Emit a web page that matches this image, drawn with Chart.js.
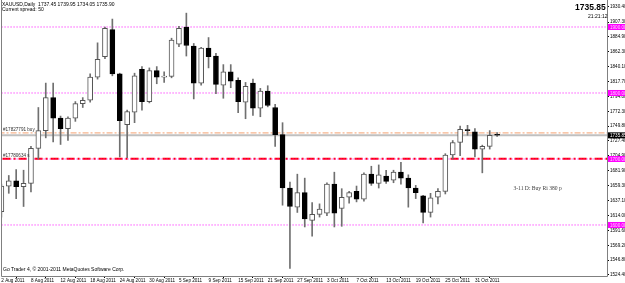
<!DOCTYPE html>
<html><head><meta charset="utf-8">
<script src="https://cdn.jsdelivr.net/npm/chart.js@4.4.1/dist/chart.umd.min.js"></script>
<style>
html,body{margin:0;padding:0;background:#fff;overflow:hidden}
#wrap{position:relative;width:625px;height:283px}
canvas{position:absolute;left:0;top:0}
.t{position:absolute;font-family:"Liberation Sans",Arial,sans-serif;color:#000;white-space:nowrap;line-height:1}
</style></head><body>
<div id="wrap"><canvas id="c" width="625" height="283"></canvas>
<div class="t" style="left:2px;top:2px;font-size:5px">XAUUSD,Daily&nbsp; 1737.45 1739.95 1734.05 1735.90</div>
<div class="t" style="left:2px;top:7px;font-size:5px">Current spread: 50</div>
<div class="t" style="left:575px;top:3px;font-size:8.5px;font-weight:bold">1735.85</div>
<div class="t" style="left:588px;top:14px;font-size:5px">21:21:12</div>
<div class="t" style="left:3px;top:267px;font-size:5px">Go Trader 4, © 2001-2011 MetaQuotes Software Corp.</div>
</div>
<script>
const tickLabels = ['2 Aug 2011','8 Aug 2011','12 Aug 2011','18 Aug 2011','24 Aug 2011','30 Aug 2011','5 Sep 2011','9 Sep 2011','15 Sep 2011','21 Sep 2011','27 Sep 2011','3 Oct 2011','7 Oct 2011','13 Oct 2011','19 Oct 2011','25 Oct 2011','31 Oct 2011'];
const tickEvery = 4;
const opens  = [1620,1659,1667,1658,1663,1716,1743,1793,1762,1746,1762,1784,1789,1824,1855,1896,1829,1752,1771,1836,1787,1834,1824,1825,1874,1900,1871,1815,1868,1856,1812,1832,1819,1786,1815,1777,1803,1778,1737,1656,1627,1649,1607,1616,1618,1662,1625,1642,1651,1639,1677,1663,1674,1668,1680,1671,1656,1644,1619,1642,1651,1706,1725,1744,1741,1715,1719,1737.45];
const highs  = [1662,1675,1684,1683,1719,1778,1815,1815,1765,1764,1787,1793,1829,1876,1900,1912,1830,1774,1830,1840,1838,1840,1832,1883,1901,1921,1875,1869,1884,1860,1843,1843,1823,1816,1821,1807,1811,1783,1755,1665,1677,1671,1634,1632,1664,1680,1655,1651,1659,1679,1689,1691,1683,1683,1695,1676,1660,1645,1648,1655,1708,1728,1750,1751,1746,1721,1743,1739.95];
const lows   = [1612,1648,1640,1628,1650,1700,1732,1726,1722,1728,1757,1778,1786,1821,1852,1826,1703,1702,1755,1774,1785,1814,1816,1823,1870,1856,1791,1812,1838,1799,1792,1808,1770,1761,1766,1764,1779,1719,1630,1534,1619,1597,1583,1612,1614,1597,1598,1633,1635,1636,1660,1656,1663,1664,1662,1627,1640,1603,1612,1632,1647,1700,1705,1736,1703,1679,1715,1734.05];
const closes = [1659,1667,1658,1663,1716,1743,1793,1762,1746,1762,1784,1789,1824,1851,1898,1829,1758,1772,1826,1787,1834,1824,1825,1880,1898,1872,1815,1868,1855,1813,1832,1818,1787,1810,1777,1803,1781,1737,1656,1628,1649,1609,1616,1624,1662,1618,1642,1649,1639,1677,1663,1676,1666,1680,1671,1656,1649,1619,1641,1651,1706,1725,1745,1743,1715,1719,1736,1735.90];
const yTicks = [1930.40,1907.30,1884.90,1862.30,1840.10,1817.70,1794.80,1772.30,1749.80,1727.40,1704.90,1681.90,1659.30,1637.10,1614.00,1591.60,1569.20,1546.80,1524.40];
const levelLines = [1900, 1800, 1700, 1600];
const buyLevel = 1739.5, slLevel = 1700.4, bidLevel = 1735.85;
const buyLabel = '#17827791 buy', slLabel = '#17780634 s';
const noteText = '3-11 D: Buy Ri 380 p', notePrice = 1655, noteIndex = 69.2;

const FONT = '"Liberation Sans", Arial, sans-serif';
const span = [-2, 90];
const hline = (v, color, width, dash) => ({
  type:'line', data: span.map(x => ({x, y:v})), borderColor:color, borderWidth:width,
  borderDash:dash, pointRadius:0, order:5, fill:false
});

const overlay = {
  id:'overlay',
  afterDraw(chart){
    const {ctx, chartArea:a, scales:{x, y}} = chart;
    ctx.save();
    // border
    ctx.strokeStyle = '#808080'; ctx.lineWidth = 1;
    ctx.beginPath();
    ctx.moveTo(a.left+0.5, a.top); ctx.lineTo(a.left+0.5, a.bottom+0.5);
    ctx.lineTo(a.right+0.5, a.bottom+0.5); ctx.lineTo(a.right+0.5, a.top);
    ctx.stroke();
    // order labels
    ctx.font = '4.6px ' + FONT; ctx.fillStyle = '#303030'; ctx.textBaseline = 'bottom'; ctx.textAlign = 'left';
    ctx.fillText(buyLabel, a.left + 2, y.getPixelForValue(buyLevel) - 1);
    ctx.fillText(slLabel, a.left + 2, y.getPixelForValue(slLevel) - 1);
    // note
    ctx.font = '5.6px "Liberation Serif", "Times New Roman", serif'; ctx.fillStyle = '#404040';
    ctx.textBaseline = 'middle';
    ctx.fillText(noteText, x.getPixelForValue(noteIndex), y.getPixelForValue(notePrice));
    // axis boxes
    ctx.font = '4.6px ' + FONT; ctx.textBaseline = 'middle';
    const box = (v, bg, fg) => {
      const py = y.getPixelForValue(v);
      ctx.fillStyle = bg; ctx.fillRect(a.right + 1, py - 3, 625 - a.right, 6);
      ctx.fillStyle = fg; ctx.fillText(v.toFixed(2), a.right + 3, py + 0.3);
    };
    levelLines.forEach(v => box(v, '#ff00ff', '#ffd0ff'));
    box(bidLevel, '#000000', '#ffffff');
    ctx.restore();
  }
};

new Chart(document.getElementById('c'), {
  type:'bar',
  data:{
    datasets:[
      { type:'bar', data: opens.map((o,i)=>({x:i, y:[o, closes[i]]})),
        backgroundColor: opens.map((o,i)=> closes[i] >= o ? '#ffffff' : '#000000'),
        borderColor: opens.map((o,i)=> closes[i] >= o ? '#555555' : '#000000'),
        borderWidth:1, borderSkipped:false, barThickness:5, grouped:false, minBarLength:1, order:0 },
      { type:'bar', data: lows.map((l,i)=>({x:i, y:[l, highs[i]]})),
        backgroundColor:'#707070', borderWidth:0, barThickness:1, grouped:false, order:1 },
      ...levelLines.map(v => hline(v, '#ff00ff', 1, [1,2])),
      hline(bidLevel, '#c0c0c0', 2, []),
      hline(buyLevel, '#f4a070', 1, [6,2,2,2]),
      hline(slLevel, '#ff0000', 2, [8,3,2,3])
    ]
  },
  options:{
    responsive:false, animation:false, devicePixelRatio:1,
    layout:{padding:{left:1, top:0, right:0, bottom:0}},
    plugins:{legend:{display:false}, tooltip:{enabled:false}},
    scales:{
      x:{ type:'linear', min:-0.05, max:81.85, offset:false,
        grid:{drawOnChartArea:false, drawTicks:true, tickLength:2, color:'#000'},
        border:{display:false},
        ticks:{autoSkip:false, maxRotation:0, align:'start', padding:0, color:'#000',
          font:{size:4.6, family:FONT}, callback:(v,i)=> tickLabels[i]},
        afterBuildTicks: s => { s.ticks = tickLabels.map((_,k)=>({value:k*tickEvery})); },
        afterFit: s => { s.height = 7; s.paddingLeft = 0; s.paddingRight = 0; }
      },
      y:{ type:'linear', position:'right', min:1522.7, max:1940.9,
        grid:{drawOnChartArea:false, drawTicks:true, tickLength:2, color:'#000'},
        border:{display:false},
        ticks:{autoSkip:false, padding:1, color:'#000', font:{size:4.6, family:FONT},
          callback:v => v.toFixed(2)},
        afterBuildTicks: s => { s.ticks = yTicks.map(v=>({value:v})); },
        afterFit: s => { s.width = 18; s.paddingTop = 0; s.paddingBottom = 0; }
      }
    }
  },
  plugins:[overlay]
});
</script>
</body></html>
